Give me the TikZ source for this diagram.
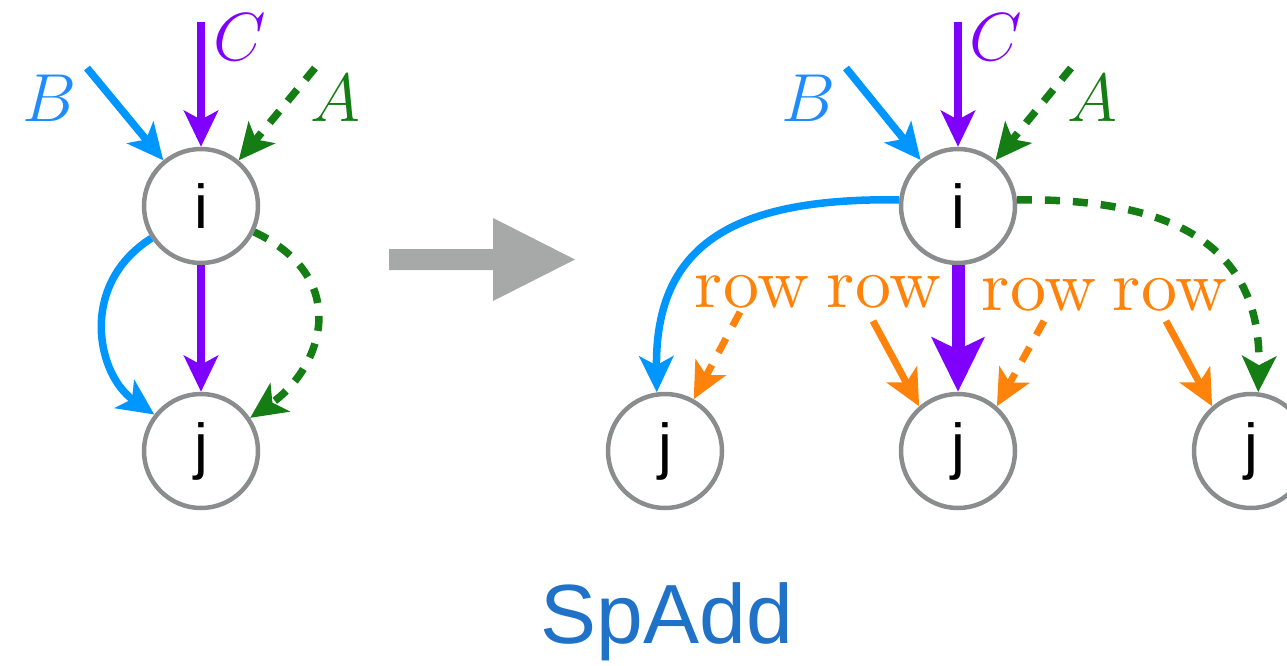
\RequirePackage{fix-cm}
\documentclass[tikz,border=0pt]{standalone}
\usepackage{fontspec}
\newfontfamily\helv{Liberation Sans}
\newfontfamily\lmten{lmroman10-regular}[Extension=.otf]
\usetikzlibrary{arrows.meta}
\definecolor{cblue}{RGB}{0,150,255}
\definecolor{lblue}{RGB}{30,140,255}
\definecolor{cpurple}{RGB}{128,0,255}
\definecolor{cgreen}{RGB}{20,125,20}
\definecolor{corange}{RGB}{255,130,10}
\definecolor{cgrey}{RGB}{138,140,142}
\definecolor{agrey}{RGB}{166,169,168}
\definecolor{tblue}{RGB}{31,114,200}
\tikzset{
  vert/.style={circle, draw=cgrey, line width=4.5pt, minimum size=114pt, inner sep=0pt, fill=white, font=\helv\fontsize{62}{62}\selectfont},
  lab/.style={inner sep=0pt, font=\fontsize{68}{68}\selectfont},
  rowlab/.style={inner sep=0pt, text=corange, font=\lmten\fontsize{72}{72}\selectfont},
  edge/.style={line width=7.5pt, -{Stealth[length=36pt, width=34pt, inset=9pt]}},
  dsh/.style={dash pattern=on 15pt off 13pt},
}
\begin{document}
\begin{tikzpicture}[x=1pt,y=-1pt]
\useasboundingbox (0,0) rectangle (1287,666);
% left graph
\node[vert] (li) at (201,206) {i};
\node[vert] (lj) at (201,451) {j};
\coordinate (lc) at (201,22);
\coordinate (lb) at (87,68);
\coordinate (la) at (315,68);
\draw[edge, cpurple] (lc) -- (li);
\draw[edge, cblue] (lb) -- (li);
\draw[edge, cgreen, dsh] (la) -- (li);
\node[lab, text=cpurple] (lcl) at (240,37) {$C$};
\node[lab, text=lblue] (lbl) at (50,98) {$B$};
\node[lab, text=cgreen] (lal) at (335,98) {$A$};
\draw[edge, cpurple] (li) -- (lj);
\draw[edge, cblue] (li.213) .. controls (78,285) and (97,375) .. (lj.142);
\draw[edge, cgreen, dsh] (li.334) .. controls (355,280) and (320,370) .. (lj.34);
% big grey arrow
\fill[agrey] (389,249) -- (493,249) -- (493,218) -- (575,259.5) -- (493,301) -- (493,270) -- (389,270) -- cycle;
% right graph
\node[vert] (ri) at (958,206) {i};
\node[vert] (rj1) at (665,451) {j};
\node[vert] (rj2) at (958,451) {j};
\node[vert] (rj3) at (1251,451) {j};
\coordinate (rc) at (958,22);
\coordinate (rb) at (846,68);
\coordinate (ra) at (1071,68);
\draw[edge, cpurple] (rc) -- (ri);
\draw[edge, cblue] (rb) -- (ri);
\draw[edge, cgreen, dsh] (ra) -- (ri);
\node[lab, text=cpurple] (rcl) at (996,37) {$C$};
\node[lab, text=lblue] (rbl) at (808,98) {$B$};
\node[lab, text=cgreen] (ral) at (1092,98) {$A$};
\draw[cpurple, line width=13pt, -{Stealth[length=54pt, width=52pt, inset=12pt]}] (ri) -- (rj2);
\draw[edge, cblue] (ri.174) .. controls (740,198) and (655,240) .. (rj1.98);
\draw[edge, cgreen, dsh] (ri.6) .. controls (1180,198) and (1262,250) .. (rj3.83);
\node[rowlab] (r1) at (752,292) {row};
\node[rowlab] (r2) at (884,292) {row};
\node[rowlab] (r3) at (1039,295) {row};
\node[rowlab] (r4) at (1170,295) {row};
\coordinate (o1) at (740,312);
\coordinate (o2) at (873,321);
\coordinate (o3) at (1044,321);
\coordinate (o4) at (1166,321);
\draw[edge, corange, line width=7pt, dash pattern=on 16pt off 14pt] (o1) -- (rj1.61);
\draw[edge, corange, line width=7pt] (o2) -- (rj2.131);
\draw[edge, corange, line width=7pt, dash pattern=on 16pt off 14pt] (o3) -- (rj2.49);
\draw[edge, corange, line width=7pt] (o4) -- (rj3.131);
% title
\node[inner sep=0pt, text=tblue, font=\helv\fontsize{84}{84}\selectfont, anchor=base] (title) at (667,643) {SpAdd};
\end{tikzpicture}
\end{document}
